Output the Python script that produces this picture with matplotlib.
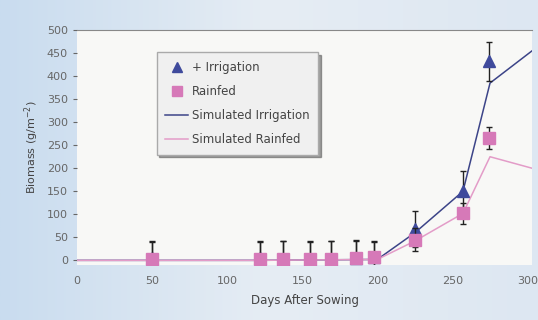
import matplotlib
matplotlib.use("Agg")
import matplotlib.pyplot as plt
from matplotlib.lines import Line2D
import numpy as np

# observed data
days = [50, 122, 137, 155, 169, 186, 198, 225, 257, 274]
irrigation = [5, 5, 3, 2, 3, 5, 8, 68, 150, 432]
irr_err = [38, 38, 40, 40, 40, 40, 35, 40, 45, 42]
rainfed = [4, 4, 3, 2, 3, 5, 7, 45, 102, 265]
rain_err = [36, 36, 38, 38, 38, 38, 33, 25, 22, 24]

# simulated curves
sim_days = [0, 40, 120, 200, 225, 257, 275, 303]
sim_irrigation = [0, 0, 0, 2, 60, 150, 385, 455]
sim_rainfed = [0, 0, 0, 2, 42, 102, 225, 200]

irr_col = "#3f4a9c"
rain_col = "#d679b8"
sim_irr_col = "#3c4488"
sim_rain_col = "#e39cc8"

fig = plt.figure(figsize=(5.38, 3.2), dpi=100)

# light blue gradient background
bg = fig.add_axes([0, 0, 1, 1], zorder=-10)
grad = np.linspace(0, 1, 256).reshape(1, -1)
bg.imshow(grad, aspect="auto", extent=[0, 1, 0, 1],
          cmap=matplotlib.colors.LinearSegmentedColormap.from_list("bg", ["#c9dcef", "#e6edf4", "#dde7f2"]))
bg.axis("off")

ax = fig.add_axes([0.143, 0.172, 0.846, 0.734])
ax.set_facecolor("#f8f8f6")

ax.plot(sim_days, sim_irrigation, color=sim_irr_col, lw=1.1, zorder=2)
ax.plot(sim_days, sim_rainfed, color=sim_rain_col, lw=1.1, zorder=2)

ax.errorbar(days, irrigation, yerr=irr_err, fmt="^", color=irr_col, ms=8,
            ecolor="#222222", elinewidth=1, capsize=2.5, zorder=3)
ax.errorbar(days, rainfed, yerr=rain_err, fmt="s", color=rain_col, ms=8,
            ecolor="#222222", elinewidth=1, capsize=2.5, zorder=4)

ax.set_xlim(0, 303)
ax.set_ylim(-10, 500)
ax.set_xticks([0, 50, 100, 150, 200, 250, 300])
ax.set_yticks(range(0, 501, 50))
ax.tick_params(colors="#666666", labelsize=8, length=3)
ax.tick_params(axis="x", length=0, pad=8)
for s in ["right", "bottom", "left"]:
    ax.spines[s].set_visible(False)
ax.spines["top"].set_color("#888888")

ax.set_xlabel("Days After Sowing", fontsize=8.5, color="#444444", labelpad=6)
ax.set_ylabel("Biomass (g/m$^{-2}$)", fontsize=8, color="#444444", labelpad=4)

handles = [
    Line2D([], [], ls="none", marker="^", ms=7, color=irr_col),
    Line2D([], [], ls="none", marker="s", ms=7, color=rain_col),
    Line2D([], [], color=sim_irr_col, lw=1.1),
    Line2D([], [], color=sim_rain_col, lw=1.1),
]
labels = ["+ Irrigation", "Rainfed", "Simulated Irrigation", "Simulated Rainfed"]
leg = ax.legend(handles, labels, loc="upper left",
                bbox_to_anchor=(0.175, 0.905), fontsize=8.5, frameon=True, fancybox=False,
                shadow=True, handlelength=2, handletextpad=0.3, labelspacing=0.95,
                borderpad=0.7, borderaxespad=0)
leg.get_frame().set_facecolor("#f0f0f0")
leg.get_frame().set_edgecolor("#aaaaaa")
for t in leg.get_texts():
    t.set_color("#444444")

fig.savefig("out.png", dpi=100)
